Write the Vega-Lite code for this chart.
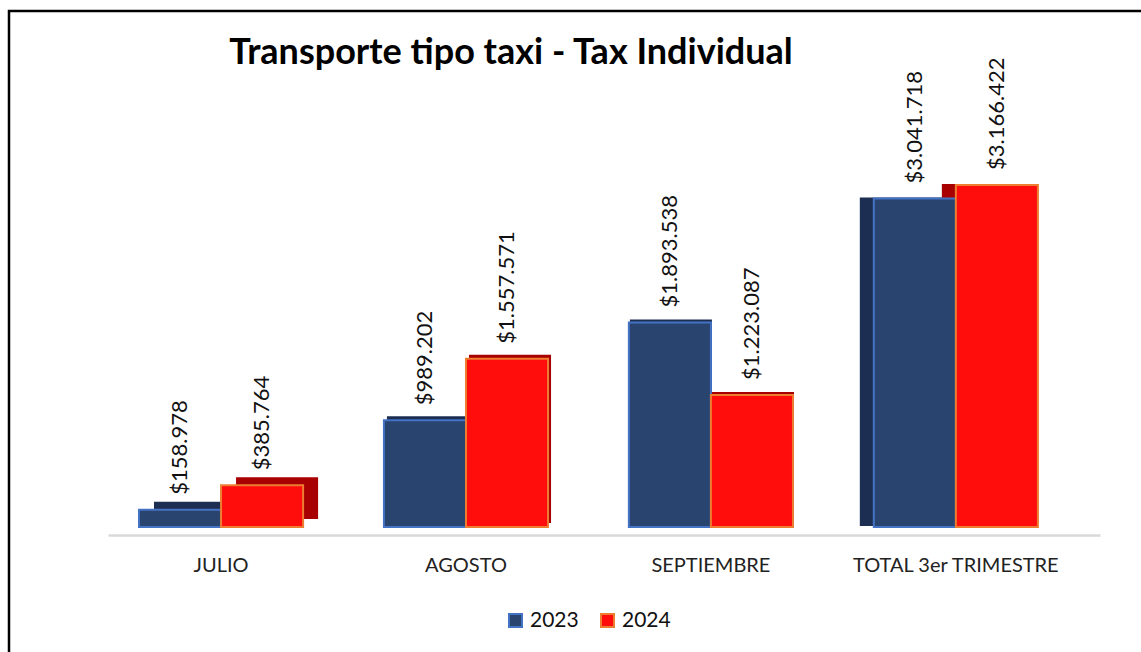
{
  "$schema": "https://vega.github.io/schema/vega-lite/v6.json",
  "autosize": {"type": "none"},
  "padding": {"left": 9, "top": 11, "right": 0, "bottom": 0},
  "width": 1150,
  "height": 660,
  "background": "white",
  "config": {"view": {"stroke": "#000000", "strokeWidth": 2.5}, "font": "Lato"},
  "title": {
    "text": "Transporte tipo taxi - Tax Individual",
    "frame": "group",
    "anchor": "middle",
    "orient": "top",
    "baseline": "alphabetic",
    "offset": 0,
    "dx": -73,
    "dy": 89,
    "font": "Lato",
    "fontSize": 36,
    "fontWeight": "bold",
    "color": "#000000"
  },
  "data": {
    "values": [
      {"mes": "JULIO", "anio": "2023", "valor": 158978, "label": "$158.978"},
      {"mes": "JULIO", "anio": "2024", "valor": 385764, "label": "$385.764"},
      {"mes": "AGOSTO", "anio": "2023", "valor": 989202, "label": "$989.202"},
      {"mes": "AGOSTO", "anio": "2024", "valor": 1557571, "label": "$1.557.571"},
      {"mes": "SEPTIEMBRE", "anio": "2023", "valor": 1893538, "label": "$1.893.538"},
      {"mes": "SEPTIEMBRE", "anio": "2024", "valor": 1223087, "label": "$1.223.087"},
      {"mes": "TOTAL 3er TRIMESTRE", "anio": "2023", "valor": 3041718, "label": "$3.041.718"},
      {"mes": "TOTAL 3er TRIMESTRE", "anio": "2024", "valor": 3166422, "label": "$3.166.422"}
    ]
  },
  "resolve": {"scale": {"xOffset": "independent"}},
  "encoding": {
    "x": {
      "field": "mes",
      "type": "nominal",
      "sort": null,
      "scale": {"range": [99, 1091], "paddingInner": 0.33, "paddingOuter": 0.19, "align": 0.333},
      "axis": {
        "title": null,
        "orient": "bottom",
        "offset": -136,
        "domainColor": "#d9d9d9",
        "domainWidth": 2.5,
        "ticks": false,
        "grid": false,
        "labelAngle": 0,
        "labelFont": "Lato",
        "labelFontSize": 20,
        "labelLimit": 0,
        "labelColor": "#222222",
        "labelPadding": 20
      }
    },
    "y": {
      "field": "valor",
      "type": "quantitative",
      "scale": {"domain": [0, 3500000], "range": [516, 138]},
      "axis": null
    }
  },
  "layer": [
    {
      "transform": [{"filter": "datum.mes == 'JULIO'"}],
      "mark": {"type": "bar", "yOffset": -8, "strokeWidth": 0},
      "encoding": {
        "xOffset": {"field": "anio", "type": "nominal", "scale": {"range": [15, 179.1], "paddingInner": 0, "paddingOuter": 0}},
        "fill": {"field": "anio", "type": "nominal", "scale": {"range": ["#1c2f52", "#a80000"]}, "legend": null}
      }
    },
    {
      "transform": [{"filter": "datum.mes == 'AGOSTO'"}],
      "mark": {"type": "bar", "yOffset": -4, "strokeWidth": 0},
      "encoding": {
        "xOffset": {"field": "anio", "type": "nominal", "scale": {"range": [3, 167.1], "paddingInner": 0, "paddingOuter": 0}},
        "fill": {"field": "anio", "type": "nominal", "legend": null}
      }
    },
    {
      "transform": [{"filter": "datum.mes == 'SEPTIEMBRE'"}],
      "mark": {"type": "bar", "yOffset": -3, "strokeWidth": 0},
      "encoding": {
        "xOffset": {"field": "anio", "type": "nominal", "scale": {"range": [1, 165.1], "paddingInner": 0, "paddingOuter": 0}},
        "fill": {"field": "anio", "type": "nominal", "legend": null}
      }
    },
    {
      "transform": [{"filter": "datum.mes == 'TOTAL 3er TRIMESTRE'"}],
      "mark": {"type": "bar", "yOffset": -1, "strokeWidth": 0},
      "encoding": {
        "xOffset": {"field": "anio", "type": "nominal", "scale": {"range": [-14, 150.1], "paddingInner": 0, "paddingOuter": 0}},
        "fill": {"field": "anio", "type": "nominal", "legend": null}
      }
    },
    {
      "mark": {"type": "bar", "strokeWidth": 2},
      "encoding": {
        "xOffset": {"field": "anio", "type": "nominal", "scale": {"paddingInner": 0, "paddingOuter": 0}},
        "color": {
          "field": "anio",
          "type": "nominal",
          "scale": {"range": ["#2a4470", "#ff0d0d"]},
          "legend": {
            "title": null,
            "orient": "none",
            "legendX": 496,
            "legendY": 599,
            "direction": "horizontal",
            "symbolType": "square",
            "symbolSize": 169,
            "symbolStrokeWidth": 2,
            "labelFont": "Lato",
            "labelFontSize": 21,
            "labelColor": "#111111",
            "columnPadding": 18
          }
        },
        "stroke": {
          "field": "anio",
          "type": "nominal",
          "scale": {"range": ["#4472c4", "#ed7d31"]}
        }
      }
    },
    {
      "mark": {"type": "text", "angle": 270, "align": "left", "baseline": "middle", "dx": 15, "font": "Lato", "fontSize": 22, "color": "#111111"},
      "encoding": {
        "xOffset": {"field": "anio", "type": "nominal", "scale": {"type": "point", "padding": 0.5}},
        "text": {"field": "label"}
      }
    }
  ]
}
